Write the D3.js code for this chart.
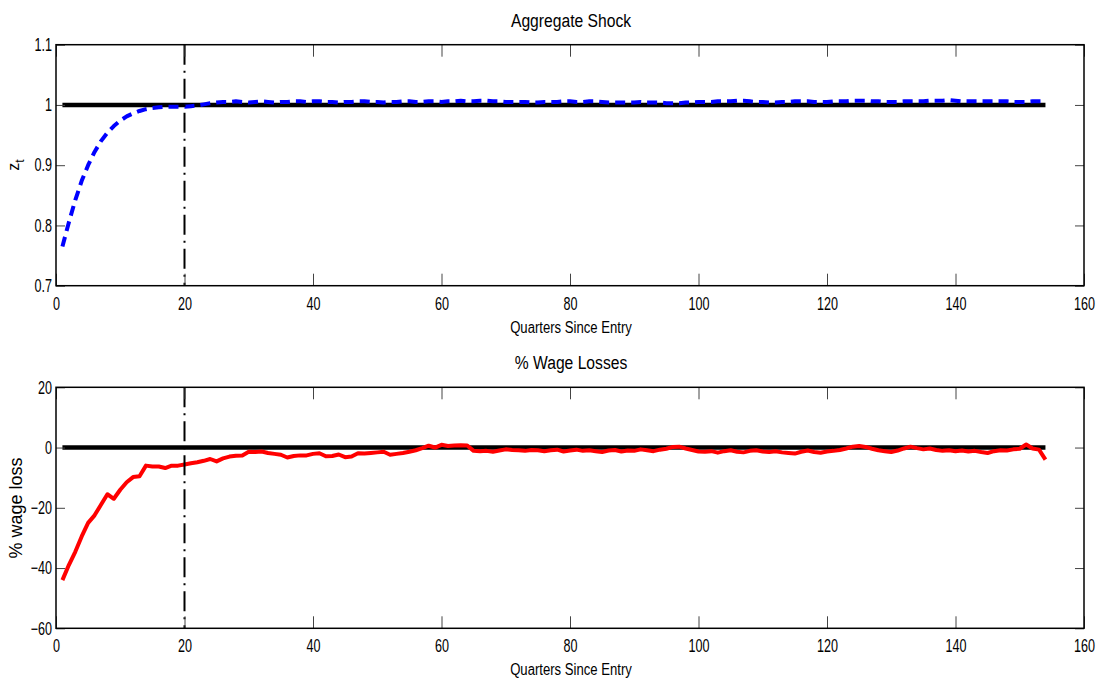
<!DOCTYPE html>
<html>
<head>
<meta charset="utf-8">
<script src="https://cdn.jsdelivr.net/npm/d3@7"></script>
<style>
  body { margin: 0; background: #fff; }
  text { font-family: "Liberation Sans", Arial, sans-serif; fill: #000; }
</style>
</head>
<body>
<svg id="chart" width="1104" height="686"></svg>
<script>
// quarters 1..154
const quarters = d3.range(1, 155);

// aggregate shock z_t
const shockZ = [
  0.765, 0.805, 0.842, 0.874, 0.900, 0.922, 0.940, 0.954, 0.965, 0.974,
  0.981, 0.986, 0.990, 0.993, 0.995, 0.996, 0.997, 0.997, 0.997, 0.997,
  0.998, 0.999, 1.001, 1.003, 1.004, 1.005, 1.005, 1.006, 1.005, 1.004,
  1.005, 1.006, 1.005, 1.004, 1.005, 1.005, 1.006, 1.006, 1.005, 1.006,
  1.006, 1.005, 1.005, 1.004, 1.005, 1.005, 1.006, 1.006, 1.005, 1.005,
  1.004, 1.005, 1.005, 1.006, 1.006, 1.005, 1.005, 1.006, 1.006, 1.005,
  1.006, 1.006, 1.007, 1.006, 1.006, 1.007, 1.007, 1.006, 1.006, 1.005,
  1.005, 1.005, 1.005, 1.004, 1.004, 1.005, 1.005, 1.005, 1.006, 1.006,
  1.005, 1.005, 1.006, 1.006, 1.005, 1.004, 1.004, 1.004, 1.004, 1.004,
  1.005, 1.004, 1.004, 1.004, 1.003, 1.003, 1.003, 1.004, 1.004, 1.005,
  1.005, 1.005, 1.006, 1.006, 1.006, 1.007, 1.007, 1.006, 1.005, 1.005,
  1.004, 1.004, 1.005, 1.005, 1.006, 1.006, 1.006, 1.005, 1.005, 1.005,
  1.006, 1.006, 1.006, 1.007, 1.007, 1.007, 1.006, 1.006, 1.005, 1.005,
  1.005, 1.006, 1.006, 1.006, 1.006, 1.007, 1.007, 1.007, 1.008, 1.007,
  1.006, 1.006, 1.006, 1.006, 1.006, 1.006, 1.006, 1.006, 1.005, 1.005,
  1.005, 1.006, 1.006, 1.006
];

// % wage loss
const wageLoss = [
  -44, -39, -34.6, -29.5, -25, -22.5, -19, -15.5, -17, -14,
  -11.5, -9.8, -9.5, -6, -6.3, -6.3, -6.8, -6, -6, -5.6,
  -5.2, -4.9, -4.4, -3.8, -4.6, -3.6, -3, -2.7, -2.6, -1.4,
  -1.5, -1.3, -1.8, -2.1, -2.4, -3.3, -2.8, -2.6, -2.6, -2.1,
  -1.9, -2.9, -2.8, -2.3, -3.2, -3, -1.9, -2, -1.8, -1.6,
  -1.4, -2.4, -2.1, -1.8, -1.4, -0.9, -0.2, 0.6, 0, 0.9,
  0.5, 0.7, 0.8, 0.7, -1.1, -1.2, -1.1, -1.4, -1, -0.6,
  -0.8, -0.9, -1.1, -0.8, -0.9, -1.2, -0.9, -0.7, -1.3, -1,
  -0.7, -1.1, -0.9, -1.2, -1.5, -1, -0.8, -1.3, -1, -1.1,
  -0.6, -0.9, -1.2, -0.7, -0.4, 0.2, 0.3, -0.3, -0.8, -1.3,
  -1.4, -1.2, -1.7, -1.2, -0.9, -1.4, -1.6, -1.1, -0.9, -1.3,
  -1.5, -1.2, -1.6, -1.8, -2, -1.4, -1, -1.5, -1.7, -1.3,
  -1.1, -0.8, -0.3, 0.3, 0.5, 0.2, -0.4, -0.9, -1.2, -1.5,
  -1, -0.3, 0.3, -0.2, -0.6, -0.3, -0.8, -1.1, -0.9, -1.2,
  -1, -1.3, -1.1, -1.5, -1.8, -1.2, -0.9, -1, -0.6, -0.4,
  1, -0.3, -0.7, -4
];

const xTicks = [0, 20, 40, 60, 80, 100, 120, 140, 160];
const zTicks = [0.7, 0.8, 0.9, 1, 1.1];
const zTickLabels = ["0.7", "0.8", "0.9", "1", "1.1"];
const wTicks = [-60, -40, -20, 0, 20];
const wTickLabels = ["\u221260", "\u221240", "\u221220", "0", "20"];
const markerQuarter = 20;

const svg = d3.select('#chart');
const narrow = 0.7;   // MATLAB export uses a condensed Helvetica

// centred text squeezed horizontally
function squeezed(parent, cx, y, str, size, sx){
  return parent.append('text')
    .attr('transform', `translate(${cx},${y}) scale(${sx},1)`)
    .attr('text-anchor', 'middle')
    .style('font-size', size + 'px')
    .text(str);
}

function panel(cfg){
  const x = d3.scaleLinear().domain([0, 160]).range([56, 1084]);
  const y = d3.scaleLinear().domain(cfg.domain).range([cfg.bottom, cfg.top]);
  const g = svg.append('g');

  // baseline
  g.append('line')
   .attr('x1', x(quarters[0])).attr('x2', x(quarters[quarters.length-1]))
   .attr('y1', y(cfg.base)).attr('y2', y(cfg.base))
   .attr('stroke', '#000').attr('stroke-width', 4.5);

  // series
  const line = d3.line().x((d,i) => x(quarters[i])).y(d => y(d));
  g.append('path')
   .datum(cfg.values)
   .attr('d', line)
   .attr('fill', 'none')
   .attr('stroke', cfg.color)
   .attr('stroke-width', 4)
   .attr('stroke-linejoin', 'round')
   .style('stroke-dasharray', cfg.dash || null);

  // vertical marker
  g.append('line')
   .attr('x1', x(markerQuarter)).attr('x2', x(markerQuarter))
   .attr('y1', cfg.top).attr('y2', cfg.bottom)
   .attr('stroke', '#000').attr('stroke-width', 2)
   .style('stroke-dasharray', '20,6,2,6');

  // axes, MATLAB style: inward ticks on all sides
  const xb = g.append('g').attr('transform', `translate(0,${cfg.bottom})`)
    .call(d3.axisBottom(x).tickValues(xTicks).tickSizeInner(-12).tickSizeOuter(0));
  const xt = g.append('g').attr('transform', `translate(0,${cfg.top})`)
    .call(d3.axisTop(x).tickValues(xTicks).tickSizeInner(-12).tickSizeOuter(0).tickFormat(''));
  const yl = g.append('g').attr('transform', 'translate(56,0)')
    .call(d3.axisLeft(y).tickValues(cfg.ticks).tickSizeInner(-9).tickSizeOuter(0)
      .tickFormat((d,i) => cfg.tickLabels[i]));
  const yr = g.append('g').attr('transform', 'translate(1084,0)')
    .call(d3.axisRight(y).tickValues(cfg.ticks).tickSizeInner(-9).tickSizeOuter(0).tickFormat(''));
  [xb, xt, yl, yr].forEach(a => {
    a.select('.domain').remove();
    a.selectAll('.tick line').attr('stroke', '#444').attr('stroke-width', 1);
    a.selectAll('text').style('font-size', '18px').attr('fill', '#000');
  });
  xb.selectAll('text').attr('y', 24).attr('dy', 0)
    .attr('transform', `scale(${narrow},1)`);
  yl.selectAll('text').attr('x', -4 / narrow).attr('dy', '0.32em')
    .attr('transform', `scale(${narrow},1)`);

  // frame
  g.append('rect')
   .attr('x', 56).attr('y', cfg.top)
   .attr('width', 1028).attr('height', cfg.bottom - cfg.top)
   .attr('fill', 'none').attr('stroke', '#000').attr('stroke-width', 1.5);

  // titles
  squeezed(g, 571, cfg.top - 18, cfg.title, 18, 0.87);
  squeezed(g, 571, cfg.bottom + 47, 'Quarters Since Entry', 16, 0.82);
  return g;
}

panel({
  domain: [0.7, 1.1], top: 44.7, bottom: 285.7, base: 1,
  values: shockZ, color: '#0000ff', dash: '10,6',
  ticks: zTicks, tickLabels: zTickLabels, title: 'Aggregate Shock'
});

panel({
  domain: [-60, 20], top: 387.3, bottom: 628.3, base: 0,
  values: wageLoss, color: '#ff0000',
  ticks: wTicks, tickLabels: wTickLabels, title: '% Wage Losses'
});

// y labels
const zl = svg.append('text').attr('transform', 'translate(19,165) rotate(-90)')
  .attr('text-anchor', 'middle').style('font-size', '16px');
zl.append('tspan').text('z');
zl.append('tspan').attr('dy', 5).style('font-size', '12px').text('t');

svg.append('text').attr('transform', 'translate(22,508) rotate(-90)')
  .attr('text-anchor', 'middle')
  .style('font-size', '18px').text('% wage loss');
</script>
</body>
</html>
